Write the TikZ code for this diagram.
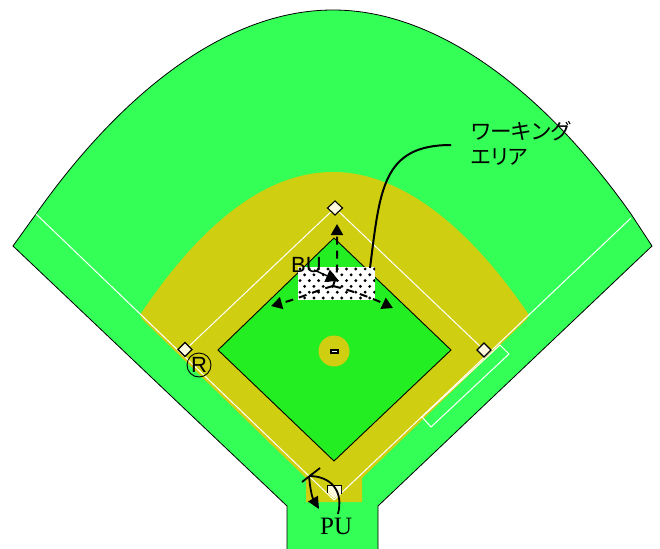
\documentclass[tikz,border=0pt]{standalone}
\usepackage{fontspec}
\setmainfont{Liberation Serif}
\newfontfamily\arialfont{Liberation Sans}
\newfontfamily\cjkfont[RawFeature=+palt]{Noto Sans CJK JP}
\usetikzlibrary{arrows.meta}
\definecolor{outf}{HTML}{33FF57}
\definecolor{inf}{HTML}{22EE22}
\definecolor{dirt}{HTML}{D0CE10}
\definecolor{basec}{HTML}{FBF8DC}
\tikzset{
  foul/.style={draw=white,line width=1pt},
  base/.style={draw=black,fill=basec,line width=1.1pt},
  lead/.style={draw=black,line width=2pt},
  move/.style={draw=black,line width=2pt,dash pattern=on 8pt off 6pt,-{Triangle[length=11pt,width=12pt]}},
  lbl/.style={inner sep=0pt,anchor=west,text=black}
}
\begin{document}
\begin{tikzpicture}[x=1pt,y=-1pt]
\useasboundingbox (0,0) rectangle (660,548);
\clip (0,0) rectangle (660,548);
% field
\draw[fill=outf,draw=black,line width=0.8pt] (13,246) -- (36,214)
  .. controls (120,95) and (225,10) .. (333,10)
  .. controls (440,10) and (547,95) .. (631,214)
  -- (652,246) -- (378,506) -- (378,556) -- (287,556) -- (287,506) -- cycle;
% dirt
\fill[dirt] (140,315) .. controls (200,225) and (265,172) .. (333,172)
  .. controls (400,172) and (468,225) .. (529,315)
  -- (527,319) -- (362,478) -- (362,502) -- (306,502) -- (306,478) -- (142,319) -- cycle;
% base paths and foul lines
\draw[foul] (36,214) -- (334,500) -- (631,218);
\draw[foul] (185,350) -- (335,208) -- (484,350);
\draw[foul] (500,345) -- (509,354) -- (431,427) -- (422,417) -- cycle;
% infield
\draw[fill=inf,draw=black,line width=0.9pt] (334,238) -- (451,350) -- (334,461) -- (218,350) -- cycle;
\fill[dirt] (334,351) circle [radius=15.5];
\draw[draw=black,fill=white,line width=1.1pt] (331,350) rectangle (338,353);
% bases
\draw[base] (335,201) -- (342.5,208) -- (335,215) -- (327.5,208) -- cycle;
\draw[base] (484,343) -- (491,350) -- (484,357) -- (477,350) -- cycle;
\draw[base] (185,342.5) -- (192,349.5) -- (185,356.5) -- (178,349.5) -- cycle;
\draw[draw=black,line width=0.9pt] (327.5,493) -- (327.5,485.5) -- (341.5,485.5) -- (341.5,494);
\fill[basec] (328,486.2) -- (341,486.2) -- (341,493) -- (334,498.5) -- (328,492.5) -- cycle;
% working area
\fill[white] (298,267) rectangle (375,300);
\begin{scope}
\clip (298,267) rectangle (375,300);
\foreach \r in {0,...,3}{
  \foreach \c in {0,...,8}{
    \fill[black] ({300+\c*9.3},{269+\r*11.6}) circle [radius=1.6];
    \fill[black] ({304.6+\c*9.3},{274.8+\r*11.6}) circle [radius=1.6];
  }
}
\end{scope}
% umpire BU
\coordinate (bu) at (333,286);
\coordinate (up) at (337,224);
\coordinate (lf) at (271,306);
\coordinate (rt) at (393,308);
\coordinate (bufrom) at (314,270);
\draw[move] (bu) .. controls (335,280) and (337,276) .. (337,266) -- (up);
\draw[move] (bu) .. controls (318,290) and (300,298) .. (lf);
\draw[move] (bu) .. controls (350,290) and (372,298) .. (rt);
\draw[draw=black,line width=1.4pt,-{Triangle[length=13pt,width=13pt]}] (bufrom) -- ([xshift=6pt,yshift=5pt]bu);
% leader
\coordinate (areatop) at (370,268);
\coordinate (leadend) at (451,145);
\draw[lead] (areatop) .. controls (380,190) and (382,145) .. (leadend);
% umpire PU
\coordinate (pua) at (302,482);
\coordinate (pub) at (320,468);
\coordinate (puc) at (338,514);
\coordinate (pud) at (309,476);
\coordinate (pue) at (319,509);
\draw[draw=black,line width=1.8pt] (pua) -- (pub);
\draw[draw=black,line width=1.8pt] (puc) .. controls (344,490) and (330,476) .. (pud);
\draw[draw=black,line width=1.8pt,-{Triangle[length=12pt,width=11pt]}] (pud) .. controls (310,488) and (312,497) .. (pue);
% labels
\node[lbl] (wa1) at (471,131) {\cjkfont\fontsize{21.6}{24}\selectfont ワーキング};
\node[lbl] (wa2) at (471,157) {\cjkfont\fontsize{21}{24}\selectfont エリア};
\node[lbl] (bulbl) at (291,265) {\arialfont\fontsize{22}{24}\selectfont BU};
\node[lbl] (pulbl) at (320,526) {\fontsize{25}{26}\selectfont PU};
\node[draw=black,circle,line width=0.9pt,minimum size=24pt,inner sep=0pt] (rlbl) at (199,365) {\arialfont\fontsize{22}{22}\selectfont R};
\end{tikzpicture}
\end{document}
